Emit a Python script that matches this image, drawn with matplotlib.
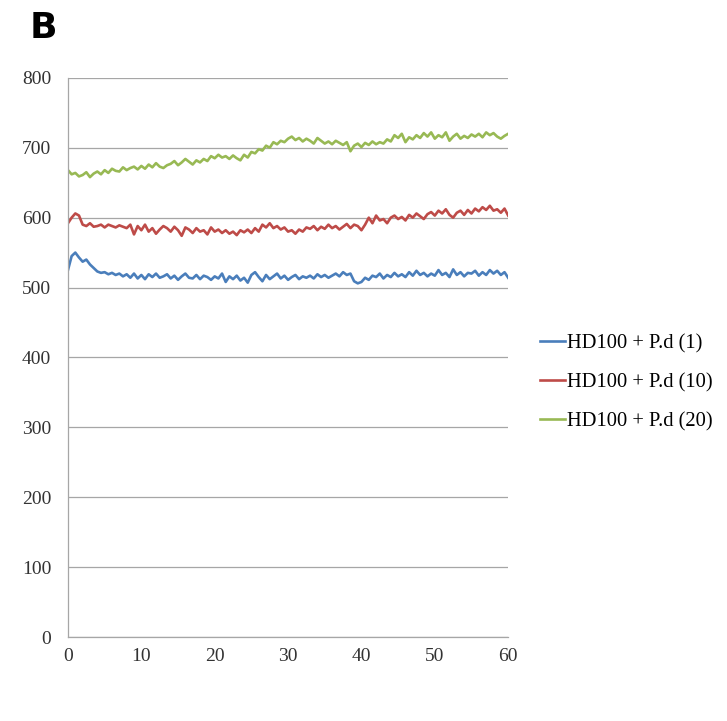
import numpy as np
import matplotlib.pyplot as plt

# time axis, minutes (every 0.5 min)
minutes = np.arange(0, 60.5, 0.5)

pd1 = [525, 545, 550, 543, 537, 540, 533, 528, 523, 521, 522,
       519, 521, 518, 520, 516, 519, 514, 520, 513, 518,
       512, 519, 515, 520, 514, 516, 519, 513, 517, 511,
       516, 520, 514, 513, 518, 512, 517, 515, 511, 516,
       513, 520, 508, 516, 512, 517, 510, 514, 507, 518,
       522, 515, 509, 518, 512, 516, 520, 513, 517, 511,
       515, 518, 512, 516, 514, 517, 513, 519, 515, 518,
       514, 517, 520, 516, 522, 518, 520, 509, 506, 508,
       514, 511, 517, 515, 520, 513, 518, 515, 521, 516,
       519, 515, 522, 517, 524, 518, 521, 516, 520, 517,
       525, 518, 521, 515, 526, 518, 522, 516, 521, 520,
       524, 517, 522, 518, 525, 520, 524, 518, 522, 514]

pd10 = [592, 600, 606, 603, 590, 588, 592, 587, 588, 590, 586,
        590, 588, 586, 589, 587, 585, 590, 576, 588, 582,
        590, 580, 585, 577, 583, 588, 585, 580, 587, 582,
        574, 586, 583, 578, 585, 580, 582, 576, 586, 580,
        583, 578, 582, 577, 580, 575, 582, 579, 583, 578,
        585, 580, 590, 586, 592, 585, 588, 583, 586, 580,
        582, 577, 583, 580, 586, 584, 588, 582, 587, 584,
        590, 585, 588, 583, 587, 591, 585, 590, 588, 582,
        590, 600, 592, 603, 596, 598, 592, 600, 603, 598,
        601, 596, 604, 600, 606, 602, 598, 605, 608, 603,
        610, 606, 612, 604, 600, 607, 610, 604, 611, 606,
        613, 609, 615, 611, 617, 610, 612, 607, 613, 603]

pd20 = [668, 662, 664, 659, 661, 665, 658, 663, 666, 662, 668,
        664, 670, 667, 666, 672, 668, 671, 673, 669, 674,
        670, 676, 672, 678, 673, 671, 675, 677, 681, 675,
        679, 684, 680, 676, 682, 679, 684, 681, 688, 685,
        690, 686, 688, 684, 689, 685, 682, 690, 686, 694,
        692, 698, 696, 703, 700, 708, 705, 710, 708, 713,
        716, 711, 714, 709, 713, 710, 706, 714, 710, 706,
        709, 705, 710, 707, 704, 708, 695, 703, 706, 701,
        707, 704, 709, 705, 708, 706, 712, 709, 718, 714,
        720, 708, 715, 712, 718, 714, 721, 716, 722, 713,
        718, 715, 722, 710, 716, 720, 713, 717, 714, 719,
        716, 720, 715, 722, 718, 721, 716, 713, 717, 720]

labels = ['HD100 + P.d (1)', 'HD100 + P.d (10)', 'HD100 + P.d (20)']
colors = ['#4a7ebb', '#be4b48', '#98b954']

plt.rcParams['font.family'] = 'Liberation Serif'

fig = plt.figure(figsize=(7.27, 7.21), dpi=100)
ax = fig.add_axes([0.0935, 0.1165, 0.6055, 0.7755])

for y, lab, c in zip([pd1, pd10, pd20], labels, colors):
    ax.plot(minutes, y, color=c, lw=1.9, label=lab)

ax.set_xlim(0, 60)
ax.set_ylim(0, 800)
ax.set_xticks(range(0, 61, 10))
ax.set_yticks(range(0, 801, 100))
ax.yaxis.grid(True, color='#a6a6a6', lw=0.9)
ax.set_axisbelow(True)
for s in ['top', 'right']:
    ax.spines[s].set_visible(False)
for s in ['left', 'bottom']:
    ax.spines[s].set_color('#a6a6a6')
    ax.spines[s].set_linewidth(0.9)
ax.tick_params(length=0, labelsize=14, colors='#333333')
ax.tick_params(axis='y', pad=12)
ax.tick_params(axis='x', pad=8)

ax.legend(loc='center left', bbox_to_anchor=(1.03, 0.455), frameon=False,
          fontsize=14.8, handlelength=1.2, handletextpad=0.1, labelspacing=0.95)

fig.text(0.041, 0.961, 'B', fontsize=26, fontweight='bold',
         family='DejaVu Sans', va='center', ha='left')

fig.savefig('out.png', dpi=100)
